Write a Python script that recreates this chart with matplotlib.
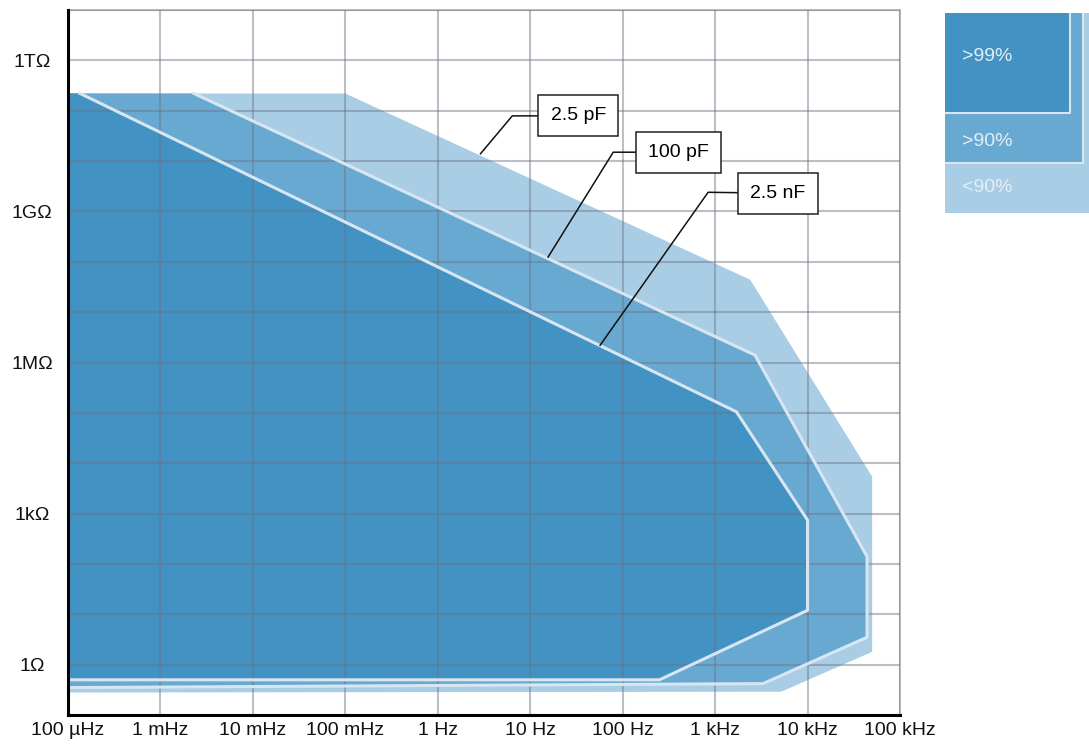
import numpy as np
import matplotlib.pyplot as plt
from matplotlib.patches import Rectangle
from matplotlib.ticker import NullLocator, NullFormatter

plt.rcParams['font.family'] = ['Liberation Sans', 'DejaVu Sans']

# outlines of the accuracy regions: frequency (Hz), impedance (ohm)
outer_f = [1e-4, 0.1, 2.4e3, 5.0e4, 5.0e4, 5.2e3, 1e-4]
outer_z = [2.2e11, 2.2e11, 4.4e7, 5.4e3, 1.8, 0.29, 0.28]
mid_f = [1e-4, 2.3e-3, 2.7e3, 4.4e4, 4.4e4, 3.3e3, 1e-4]
mid_z = [2.2e11, 2.2e11, 1.4e6, 140, 3.5, 0.42, 0.35]
inner_f = [1e-4, 1.35e-4, 1.7e3, 1.0e4, 1.0e4, 250, 1e-4]
inner_z = [2.2e11, 2.2e11, 1.05e5, 740, 12, 0.5, 0.5]

x_ticks = [1e-4, 1e-3, 1e-2, 1e-1, 1, 10, 100, 1e3, 1e4, 1e5]
x_labels = ['100 µHz', '1 mHz', '10 mHz', '100 mHz', '1 Hz', '10 Hz',
            '100 Hz', '1 kHz', '10 kHz', '100 kHz']
y_ticks = [1, 1e3, 1e6, 1e9, 1e12]
y_labels = ['1Ω', '1kΩ', '1MΩ', '1GΩ', '1TΩ']

# capacitance callouts
cap_labels = ['2.5 pF', '100 pF', '2.5 nF']
cap_text_f = [33, 400, 4.8e3]
cap_text_z = [7.9e10, 1.5e10, 2.3e9]
cap_elbow_f = [6.4, 79, 840]
cap_elbow_z = [7.9e10, 1.5e10, 2.4e9]
cap_tip_f = [2.9, 15.6, 57]
cap_tip_z = [1.4e10, 1.24e8, 2.2e6]

legend_labels = ['>99%', '>90%', '<90%']

DARK = '#4292c3'
MID = '#68a9d1'
LIGHT = '#a9cde4'
EDGE = '#d8e6f2'

fig = plt.figure(figsize=(10.89, 7.45), dpi=100)
ax = fig.add_axes([68 / 1089, 30 / 745, 832 / 1089, 705 / 745])

ax.set_xscale('log')
ax.set_yscale('log')
ax.set_xlim(1e-4, 1e5)
ax.set_ylim(1e-1, 1e13)

ax.fill(outer_f, outer_z, color=LIGHT, lw=0, zorder=1)
ax.fill(mid_f, mid_z, color=MID, lw=0, zorder=1.1)
ax.fill(inner_f, inner_z, color=DARK, lw=0, zorder=1.2)

# light borders between the regions
ax.plot(mid_f[1:], mid_z[1:], color=EDGE, lw=2.2, zorder=3)
ax.plot(inner_f[1:], inner_z[1:], color=EDGE, lw=2.2, zorder=3)

# grid on top of the fills
ax.set_axisbelow(False)
ax.set_xticks(x_ticks)
ax.set_xticklabels(x_labels)
ax.xaxis.set_minor_locator(NullLocator())
ax.set_yticks(y_ticks)
ax.set_yticklabels(y_labels)
ax.set_yticks([10.0 ** k for k in range(-1, 14)], minor=True)
ax.yaxis.set_minor_formatter(NullFormatter())
ax.grid(True, which='both', color='#6e7282', alpha=0.45, lw=1.5)
ax.tick_params(which='both', length=0, labelsize=14, colors='#111111')
ax.tick_params(axis='x', pad=5)
ax.tick_params(axis='y', pad=26)
for lbl in ax.get_yticklabels():
    lbl.set_horizontalalignment('center')

for side in ['top', 'right']:
    ax.spines[side].set_color('#bcbcbc')
    ax.spines[side].set_linewidth(1.5)
for side in ['left', 'bottom']:
    ax.spines[side].set_color('black')
    ax.spines[side].set_linewidth(2.2)
    ax.spines[side].set_zorder(6)

# callouts
for i, label in enumerate(cap_labels):
    ax.plot([cap_tip_f[i], cap_elbow_f[i], cap_text_f[i]],
            [cap_tip_z[i], cap_elbow_z[i], cap_text_z[i]],
            color='#111111', lw=1.1, zorder=4)
    ax.text(cap_text_f[i], cap_text_z[i], label, fontsize=14,
            ha='center', va='center', zorder=5,
            bbox=dict(boxstyle='square,pad=0.62', facecolor='white',
                      edgecolor='#222222', lw=1.1))

# legend block at the top right
lax = fig.add_axes([945 / 1089, 532 / 745, 144 / 1089, 200 / 745])
lax.set_xlim(0, 144)
lax.set_ylim(200, 0)
lax.axis('off')
lax.add_patch(Rectangle((0, 0), 144, 200, facecolor=LIGHT, lw=0))
lax.add_patch(Rectangle((0, 0), 138, 150, facecolor=MID, lw=0))
lax.plot([138, 138, 0], [0, 150, 150], color=EDGE, lw=1.5)
lax.add_patch(Rectangle((0, 0), 125, 100, facecolor=DARK, lw=0))
lax.plot([125, 125, 0], [0, 100, 100], color=EDGE, lw=1.5)
for label, ypos in zip(legend_labels, [44, 129, 175]):
    lax.text(17, ypos, label, fontsize=14, color='#e4eef7',
             ha='left', va='center')

fig.savefig('out.png', dpi=100)
